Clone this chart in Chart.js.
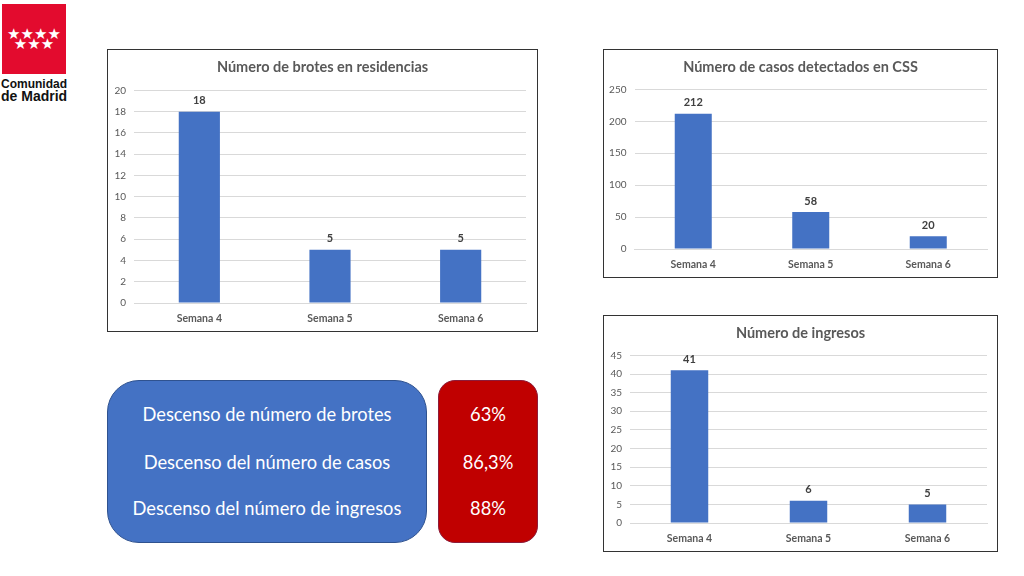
<!DOCTYPE html>
<html>
<head>
<meta charset="utf-8">
<script src="https://cdn.jsdelivr.net/npm/chart.js@4"></script>
<style>
    html, body { margin: 0; padding: 0; background: #fff; width: 1024px; height: 576px; overflow: hidden; font-family: Lato, sans-serif; }
    .abs { position: absolute; box-sizing: border-box; }
    .chartBox { position: absolute; box-sizing: border-box; border: 1px solid #333; background: #fff; }
    .chartBox canvas { position: absolute; left: -1px; top: -1px; }
    .logoRed { left: 2px; top: 4px; width: 64px; height: 70px; background: #e30b2e; }
    .stars { left: 0; width: 64px; text-align: center; color: #fff; font: 15px/15px "DejaVu Sans"; }
    .logoText { left: 1px; width: 70px; font: bold 12px/12px "Liberation Sans"; color: #111; }
    .panel { top: 380px; height: 163px; color: #fff; font-size: 18.3px; }
    .panel div { position: absolute; left: 0; right: 0; text-align: center; line-height: 24px; }
</style>
</head>
<body>

<div class="abs logoRed">
    <div class="abs stars" style="top:23px">★★★★</div>
    <div class="abs stars" style="top:33px">★★★</div>
</div>
<div class="abs logoText" style="top:78px">Comunidad<br><span style="font-size:14px">de Madrid</span></div>

<div class="chartBox" style="left:107px;top:49px;width:431px;height:283px"><canvas id="brotesChart" width="431" height="283"></canvas></div>
<div class="chartBox" style="left:603px;top:49px;width:395px;height:229px"><canvas id="casosChart" width="395" height="229"></canvas></div>
<div class="chartBox" style="left:603px;top:315px;width:395px;height:237px"><canvas id="ingresosChart" width="395" height="237"></canvas></div>

<div class="abs panel" style="left:107px;width:320px;background:#4472c4;border:1px solid #2f528f;border-radius:32px">
    <div style="top:21px">Descenso de número de brotes</div>
    <div style="top:69px">Descenso del número de casos</div>
    <div style="top:115px">Descenso del número de ingresos</div>
</div>
<div class="abs panel" style="left:438px;width:100px;background:#c00000;border:1px solid #8c1c3a;border-radius:17px">
    <div style="top:21px">63%</div>
    <div style="top:69px">86,3%</div>
    <div style="top:115px">88%</div>
</div>

<script>
const semanas = ['Semana 4', 'Semana 5', 'Semana 6'];

const brotes = [18, 5, 5];
const casos = [212, 58, 20];
const ingresos = [41, 6, 5];

const grey = '#595959';
const gridGrey = '#d9d9d9';

// value on top of each bar
const barLabels = {
    id: 'barLabels',
    afterDatasetsDraw(chart) {
        const c = chart.ctx;
        const meta = chart.getDatasetMeta(0);
        c.save();
        c.font = 'bold 11px Lato';
        c.fillStyle = '#404040';
        c.textAlign = 'center';
        c.textBaseline = 'bottom';
        meta.data.forEach((bar, i) => {
            c.fillText(chart.data.datasets[0].data[i], bar.x, bar.y - 5.5);
        });
        c.restore();
    }
};

// right padding would push the title off centre, so stretch it over the whole box
const centerTitle = {
    id: 'centerTitle',
    afterLayout(chart) {
        chart.titleBlock.left = 0;
        chart.titleBlock.right = chart.width;
    }
};

function createBarChart(elementId, title, data, max, step, axisWidth, rightPad, titleGap) {
    new Chart(document.getElementById(elementId), {
        type: 'bar',
        plugins: [barLabels, centerTitle],
        data: {
            labels: semanas,
            datasets: [{
                data: data,
                backgroundColor: '#4472c4',
                categoryPercentage: 1,
                barPercentage: 0.315
            }]
        },
        options: {
            responsive: false,
            animation: false,
            layout: { padding: { left: 0, right: rightPad } },
            plugins: {
                legend: { display: false },
                tooltip: { enabled: false },
                title: {
                    display: true,
                    text: title,
                    color: grey,
                    font: { family: 'Lato', size: 14.5, weight: 'bold' },
                    padding: { top: 10, bottom: titleGap }
                }
            },
            scales: {
                x: {
                    grid: { display: false },
                    border: { color: gridGrey },
                    ticks: { color: grey, font: { family: 'Lato', size: 10.5, weight: 'bold' }, padding: 1, maxRotation: 0 },
                    afterFit(scale) { scale.height = 29; }
                },
                y: {
                    min: 0,
                    max: max,
                    grid: { color: gridGrey, drawTicks: false },
                    border: { display: false },
                    ticks: { stepSize: step, color: grey, font: { family: 'Lato', size: 10 }, padding: 8 },
                    afterFit(scale) { scale.width = axisWidth; }
                }
            }
        }
    });
}

document.addEventListener('DOMContentLoaded', function() {
    createBarChart('brotesChart', 'Número de brotes en residencias', brotes, 20, 2, 27, 12, 14);
    createBarChart('casosChart', 'Número de casos detectados en CSS', casos, 250, 50, 31.5, 11, 13);
    createBarChart('ingresosChart', 'Número de ingresos', ingresos, 45, 5, 27, 11, 13);
});
</script>
</body>
</html>
